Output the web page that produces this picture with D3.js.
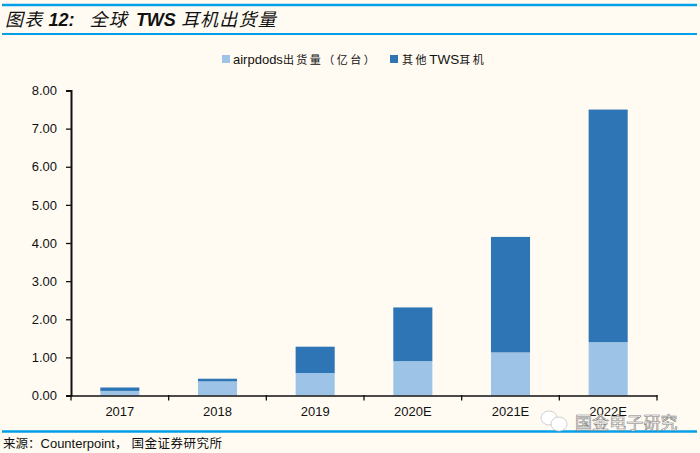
<!DOCTYPE html>
<html><head><meta charset="utf-8">
<script src="https://cdn.jsdelivr.net/npm/d3@7"></script>
<style>
html,body{margin:0;padding:0;background:#fffbf2;}
svg{display:block;}
text{font-family:"Liberation Sans",Arial,sans-serif;fill:#111;}
</style></head><body>
<svg id="c" width="700" height="453"></svg>
<script>
const categories=["2017","2018","2019","2020E","2021E","2022E"];
const airpods=[0.12,0.37,0.59,0.90,1.13,1.40];
const others=[0.09,0.07,0.69,1.41,3.03,6.10];
const yTicks=[0,1,2,3,4,5,6,7,8];
const seriesColors=["#9dc3e6","#2e75b6"];
const watermark="国金电子研究";
const cjk='"Noto Sans CJK SC",sans-serif';
const latin='"Liberation Sans",Arial,sans-serif';

const svg=d3.select("#c");
const x=d3.scaleBand().domain(categories).range([71,657]).paddingInner(0.6).paddingOuter(0.3);
const y=d3.scaleLinear().domain([0,8]).range([395.5,90.5]);

[[5,2.6],[34,1.8],[431.5,2.6]].forEach(r=>{
  svg.append("line").attr("x1",2).attr("x2",697).attr("y1",r[0]).attr("y2",r[0]).attr("stroke","#00a0e9").attr("stroke-width",r[1]);
});

function runs(px,py,parts,style){
  const t=svg.append("text").attr("x",px).attr("y",py).style("white-space","pre");
  if(style) t.attr("font-style",style);
  parts.forEach(p=>{
    t.append("tspan").text(p[0]).style("font-family",p[1]).attr("font-size",p[2]).attr("font-weight",p[3]).style("letter-spacing",p[4]+"px");
  });
}
runs(5,26,[["图表",cjk,18,400,1.2],[" ",latin,18,700,0],["12:",latin,18,700,0],["   ",latin,18,700,0],["全球",cjk,18,400,1.2],[" ",latin,18,700,3],["TWS",latin,18,700,0],[" ",latin,18,700,0],["耳机出货量",cjk,18,400,1.2]],"italic");

// legend
svg.append("rect").attr("x",222).attr("y",55).attr("width",8).attr("height",8).attr("fill",seriesColors[0]);
runs(233,63.5,[["airpdods",latin,13,400,0],["出货量（亿台）",cjk,11,400,2.5]]);
svg.append("rect").attr("x",390).attr("y",55).attr("width",8).attr("height",8).attr("fill",seriesColors[1]);
runs(402,63.5,[["其他",cjk,11,400,2.6],["TWS",latin,13.5,400,0],["耳机",cjk,11,400,2.6]]);

// bars
const stack=d3.stack().keys([0,1]).value((d,k)=>d[k])(categories.map((c,i)=>[airpods[i],others[i]]));
stack.forEach((ser,k)=>{
  svg.append("g").selectAll("rect").data(ser).join("rect")
    .attr("x",(d,i)=>x(categories[i])).attr("width",x.bandwidth())
    .attr("y",d=>y(d[1])).attr("height",d=>y(d[0])-y(d[1]))
    .attr("fill",seriesColors[k]);
});

// axes
const ay=svg.append("g").attr("transform","translate(71,0)")
  .call(d3.axisLeft(y).tickValues(yTicks).tickFormat(d3.format(".2f")).tickSize(5).tickPadding(9));
const ax=svg.append("g").attr("transform","translate(0,395.5)")
  .call(d3.axisBottom(x).tickFormat(d=>d).tickSize(0).tickPadding(11));
const step=x.step();
d3.range(categories.length+1).forEach(i=>{
  svg.append("line").attr("x1",71+step*i).attr("x2",71+step*i).attr("y1",395).attr("y2",400.5).attr("stroke","#111").attr("stroke-width",1.3);
});
ay.selectAll("path").attr("stroke","#111").attr("stroke-width",2);
ax.selectAll("path").attr("stroke","#111").attr("stroke-width",1.6);
[ay,ax].forEach(a=>{
  a.selectAll("line").attr("stroke","#111").attr("stroke-width",1.3);
  a.selectAll("text").attr("font-size",13).style("font-family",latin).attr("fill","#111");
});

// source
runs(3,448,[["来源：",cjk,12.5,400,0],["Counterpoint",latin,13,400,0],["，",cjk,12.5,400,4],["国金证券研究所",cjk,12.5,400,0.5]]);

// watermark
const wm=svg.append("g").attr("fill","#fff").attr("stroke","#c4c4c4").attr("stroke-width",0.8);
wm.append("ellipse").attr("cx",549).attr("cy",418).attr("rx",8).attr("ry",7);
wm.append("ellipse").attr("cx",559).attr("cy",424).attr("rx",8).attr("ry",7);
svg.append("text").attr("x",575).attr("y",429).attr("font-size",17).style("font-family",cjk).style("letter-spacing","0.1px")
  .style("fill","#fff").attr("stroke","#7f7f7f").attr("stroke-width",0.6).text(watermark);
</script>
</body></html>
